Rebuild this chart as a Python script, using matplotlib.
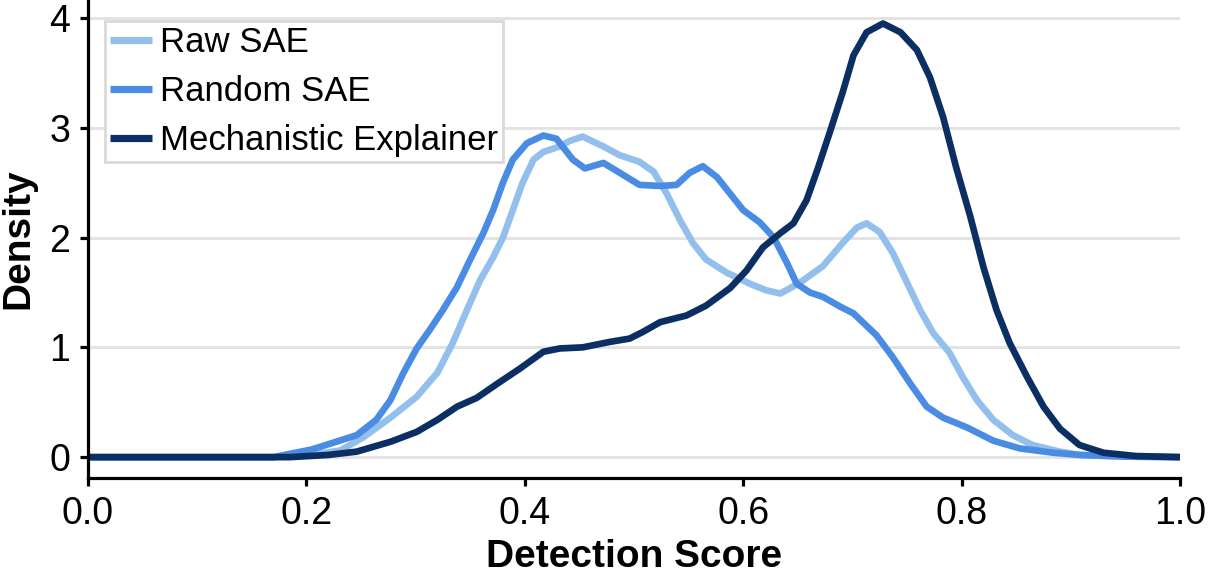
import matplotlib
matplotlib.use("Agg")
import matplotlib.pyplot as plt

plt.rcParams['font.family'] = ['Liberation Sans', 'DejaVu Sans']

# Raw SAE
raw_x = [0.0, 0.17, 0.19, 0.21, 0.231, 0.252, 0.277, 0.301, 0.32, 0.334, 0.347, 0.359, 0.371,
         0.38, 0.389, 0.398, 0.408, 0.417, 0.432, 0.441, 0.453, 0.472, 0.487, 0.505, 0.518,
         0.53, 0.542, 0.554, 0.566, 0.585, 0.606, 0.621, 0.634, 0.652, 0.673, 0.691, 0.704,
         0.713, 0.725, 0.737, 0.75, 0.762, 0.774, 0.789, 0.801, 0.814, 0.829, 0.847, 0.865,
         0.89, 0.908, 0.95, 1.0]
raw_y = [0.0, 0.0, 0.01, 0.03, 0.06, 0.18, 0.36, 0.55, 0.77, 1.04, 1.34, 1.61, 1.82,
         2.0, 2.25, 2.5, 2.71, 2.78, 2.83, 2.88, 2.92, 2.83, 2.75, 2.69, 2.6,
         2.4, 2.16, 1.95, 1.8, 1.68, 1.58, 1.52, 1.49, 1.59, 1.74, 1.95, 2.09,
         2.13, 2.05, 1.86, 1.59, 1.34, 1.13, 0.95, 0.73, 0.52, 0.34, 0.2, 0.11,
         0.05, 0.02, 0.005, 0.0]

# Random SAE
rnd_x = [0.0, 0.17, 0.185, 0.205, 0.224, 0.246, 0.264, 0.277, 0.289, 0.301, 0.313, 0.325, 0.338,
         0.35, 0.362, 0.371, 0.38, 0.389, 0.402, 0.417, 0.429, 0.444, 0.455, 0.472, 0.487,
         0.505, 0.524, 0.539, 0.551, 0.563, 0.576, 0.588, 0.6, 0.615, 0.628, 0.64, 0.649,
         0.661, 0.673, 0.689, 0.701, 0.722, 0.737, 0.753, 0.768, 0.783, 0.805, 0.829, 0.853,
         0.884, 0.908, 0.95, 1.0]
rnd_y = [0.0, 0.0, 0.03, 0.07, 0.13, 0.2, 0.34, 0.52, 0.77, 0.99, 1.16, 1.34, 1.55,
         1.8, 2.04, 2.25, 2.5, 2.71, 2.86, 2.93, 2.9, 2.71, 2.63, 2.68, 2.59,
         2.48, 2.47, 2.48, 2.59, 2.65, 2.55, 2.4, 2.25, 2.14, 2.0, 1.77, 1.58,
         1.5, 1.46, 1.37, 1.31, 1.11, 0.91, 0.67, 0.46, 0.36, 0.27, 0.15, 0.08,
         0.04, 0.02, 0.005, 0.0]

# Mechanistic Explainer
mech_x = [0.0, 0.185, 0.22, 0.246, 0.277, 0.301, 0.32, 0.338, 0.356, 0.375, 0.396, 0.417, 0.432,
          0.453, 0.478, 0.496, 0.508, 0.524, 0.548, 0.566, 0.588, 0.603, 0.618, 0.634, 0.646,
          0.658, 0.668, 0.679, 0.691, 0.701, 0.713, 0.728, 0.744, 0.759, 0.771, 0.783, 0.795,
          0.808, 0.82, 0.832, 0.844, 0.86, 0.875, 0.89, 0.908, 0.93, 0.96, 1.0]
mech_y = [0.0, 0.0, 0.02, 0.05, 0.14, 0.23, 0.34, 0.46, 0.54, 0.67, 0.81, 0.96, 0.99,
          1.0, 1.05, 1.08, 1.14, 1.23, 1.29, 1.38, 1.54, 1.7, 1.91, 2.04, 2.13,
          2.34, 2.62, 2.95, 3.32, 3.66, 3.87, 3.95, 3.87, 3.71, 3.46, 3.1, 2.64,
          2.19, 1.73, 1.34, 1.04, 0.73, 0.46, 0.26, 0.11, 0.04, 0.01, 0.0]

labels = ["Raw SAE", "Random SAE", "Mechanistic Explainer"]
colors = ["#92BFEC", "#4A8CE4", "#0B2E63"]
x_ticks = [0.0, 0.2, 0.4, 0.6, 0.8, 1.0]
y_ticks = [0, 1, 2, 3, 4]

fig = plt.figure(figsize=(12.08, 5.73), dpi=100)
ax = fig.add_axes([88/1208, 1 - 478/573, (1180-88)/1208, 478/573])

for xs, ys, lab, col in zip([raw_x, rnd_x, mech_x], [raw_y, rnd_y, mech_y], labels, colors):
    ax.plot(xs, ys, color=col, lw=4.8, label=lab, solid_joinstyle='round', solid_capstyle='round')

ax.set_xlim(0, 1.0)
ax.set_ylim(-0.19, 4.164)
ax.set_xticks(x_ticks)
ax.set_xticklabels([f"{v:.1f}" for v in x_ticks])
ax.set_yticks(y_ticks)
ax.yaxis.grid(True, color="#e3e3e3", lw=2.2)
ax.set_axisbelow(True)
for s in ['top', 'right']:
    ax.spines[s].set_visible(False)
for s in ['left', 'bottom']:
    ax.spines[s].set_linewidth(2.3)
ax.tick_params(axis='both', labelsize=27, width=2.3, length=6, direction='out', pad=7)
ax.set_xlabel("Detection Score", fontsize=28, fontweight='bold', labelpad=5)
ax.set_ylabel("Density", fontsize=28, fontweight='bold', labelpad=9)

leg = ax.legend(loc='upper left', bbox_to_anchor=((105-88)/1092, 1 - 21/478), fontsize=25,
                frameon=True, fancybox=False, edgecolor="#d9d9d9", framealpha=1,
                handlelength=1.2, handletextpad=0.22, labelspacing=0.46,
                borderpad=0.15, borderaxespad=0.0)
leg.get_frame().set_linewidth(2)
for h in leg.get_lines():
    h.set_linewidth(5.2)
    h.set_solid_capstyle('butt')

fig.savefig("out.png", dpi=100)
